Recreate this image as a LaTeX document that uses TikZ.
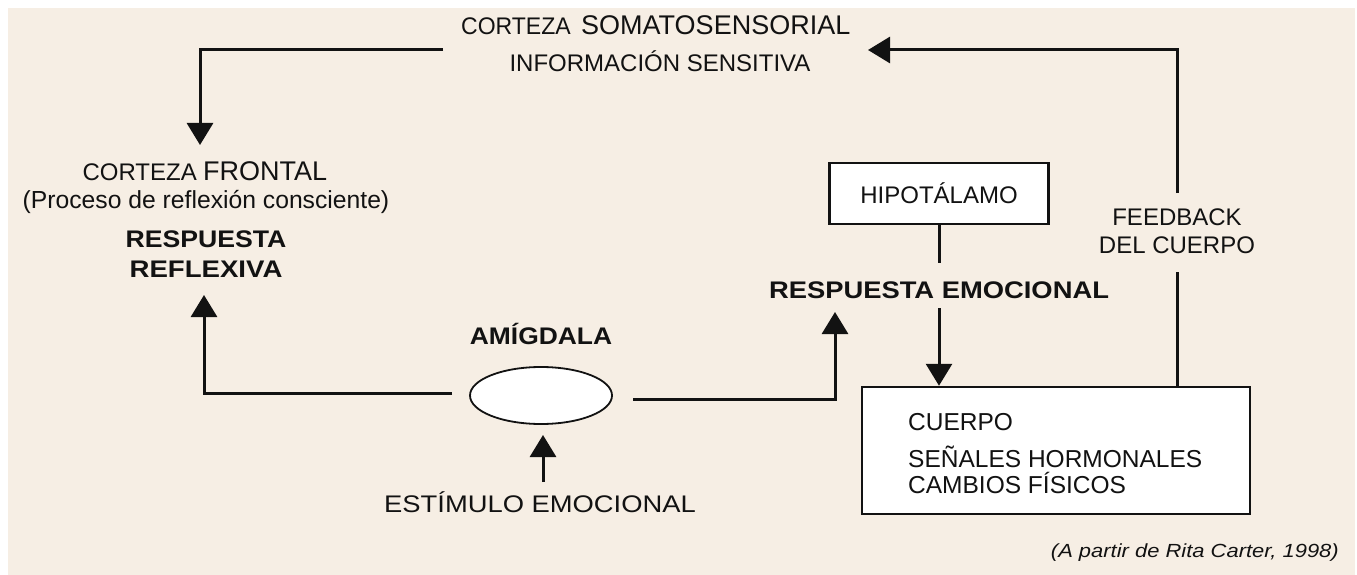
\documentclass[tikz,border=0pt]{standalone}
\usepackage{fontspec}
\setmainfont{Liberation Sans}
\usepackage{graphicx}
\usetikzlibrary{arrows.meta,shapes.geometric}
\definecolor{bg}{RGB}{246,238,228}
\definecolor{ink}{RGB}{18,18,18}
\newcommand{\fsz}[1]{\fontsize{#1pt}{#1pt}\selectfont}
\newcommand{\hx}[2]{\scalebox{#1}[1]{#2}}
\begin{document}
\begin{tikzpicture}[x=1pt,y=-1pt,
  txt/.style={inner sep=0pt, text=ink, anchor=base, font=\fsz{24}},
  bld/.style={txt, font=\fsz{24}\bfseries},
  conn/.style={line width=3pt, draw=ink},
  arr/.style={conn, -{Triangle[width=26pt,length=22pt]}},
  boxnode/.style={draw=ink, line width=2.5pt, fill=white, inner sep=0pt}]
\useasboundingbox (0,0) rectangle (1357,575);
\fill[white] (0,0) rectangle (1357,575);
\fill[bg] (8,8) rectangle (1355,575);

% ---- texts ----
\node[txt, anchor=base east] (soma1) at (571,35) {\hx{0.96}{CORTEZA}};
\node[txt, anchor=base west, font=\fsz{27}] (soma2) at (581,35) {SOMATOSENSORIAL};
\node[txt] (info) at (660,72) {INFORMACIÓN SENSITIVA};

\node[txt, anchor=base east] (frontal1) at (197,180) {CORTEZA};
\node[txt, anchor=base west, font=\fsz{27}] (frontal2) at (203,180) {FRONTAL};
\node[txt, font=\fsz{24.7}] (proceso) at (206,208) {(Proceso de reflexión consciente)};
\node[bld] (resp) at (206,247) {\hx{1.11}{RESPUESTA}};
\node[bld] (refl) at (206,277) {\hx{1.15}{REFLEXIVA}};

\node[boxnode, minimum width=219pt, minimum height=61pt, font=\fsz{24}, text=ink] (hipo) at (939,193.5) {HIPOTÁLAMO};
\node[bld] (emo) at (939,298) {\hx{1.14}{RESPUESTA EMOCIONAL}};

\node[txt] (fb1) at (1177,225) {FEEDBACK};
\node[txt] (fb2) at (1177,253) {DEL CUERPO};

\node[boxnode, minimum width=388pt, minimum height=127pt] (cuerpo) at (1056,450.5) {};
\node[txt, anchor=base west, font=\fsz{24.5}] (c1) at (908,430) {CUERPO};
\node[txt, anchor=base west, font=\fsz{24.5}] (c2) at (908,467) {SEÑALES HORMONALES};
\node[txt, anchor=base west, font=\fsz{24.5}] (c3) at (908,493) {CAMBIOS FÍSICOS};

\node[bld] (amlabel) at (541,344) {\hx{1.10}{AMÍGDALA}};
\node[ellipse, draw=ink, line width=1.8pt, fill=white, minimum width=142pt, minimum height=57pt, inner sep=0pt] (amy) at (541,395.5) {};
\node[txt] (estim) at (540,512) {\hx{1.14}{ESTÍMULO EMOCIONAL}};

\node[txt, anchor=base east, font=\fsz{19}\itshape] (cite) at (1339,557) {\hx{1.155}{(A partir de Rita Carter, 1998)}};

% ---- connector coordinates ----
\coordinate (sL) at (443,50);
\coordinate (fT) at (200,145);
\coordinate (fbTop) at (1177,193);
\coordinate (fbBot) at (1177,272);
\coordinate (sR) at (868,50);
\coordinate (emoTop) at (939,263);
\coordinate (emoBot) at (939,308);
\coordinate (amyL) at (452,393);
\coordinate (rrT) at (204,295);
\coordinate (amyR) at (633,399);
\coordinate (reT) at (835,312);
\coordinate (stB) at (543,482);
\coordinate (stT) at (543,435);

% ---- connectors ----
\draw[arr] (sL) -| (fT);
\draw[arr] (fbTop) |- (sR);
\draw[conn] (cuerpo.north -| fbBot) -- (fbBot);
\draw[conn] (hipo.south) -- (emoTop);
\draw[arr] (emoBot) -- (emoBot |- cuerpo.north);
\draw[arr] (amyL) -| (rrT);
\draw[arr] (amyR) -| (reT);
\draw[arr] (stB) -- (stT);
\end{tikzpicture}
\end{document}
